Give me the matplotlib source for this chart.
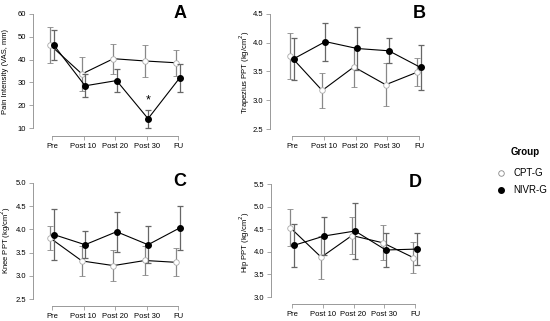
import matplotlib.pyplot as plt
import numpy as np

plt.rcParams['font.family'] = ['Liberation Sans', 'DejaVu Sans']

times = ["Pre", "Post 10", "Post 20", "Post 30", "FU"]

# panel A - pain intensity
painCPT = [46.3, 33.7, 40.4, 39.4, 38.6]
painCPTerr = [7.8, 7.3, 6.6, 7.0, 5.8]
painNIVR = [46.5, 28.5, 30.8, 14.1, 31.9]
painNIVRerr = [6.5, 5.0, 4.9, 4.0, 6.0]

# panel B - trapezius PPT
trapCPT = [3.77, 3.17, 3.58, 3.27, 3.49]
trapCPTerr = [0.40, 0.30, 0.35, 0.37, 0.24]
trapNIVR = [3.72, 4.02, 3.90, 3.86, 3.57]
trapNIVRerr = [0.37, 0.33, 0.38, 0.22, 0.39]

# panel C - knee PPT
kneeCPT = [3.81, 3.32, 3.22, 3.33, 3.29]
kneeCPTerr = [0.26, 0.33, 0.33, 0.31, 0.30]
kneeNIVR = [3.89, 3.67, 3.95, 3.67, 4.03]
kneeNIVRerr = [0.54, 0.29, 0.43, 0.40, 0.48]

# panel D - hip PPT
hipCPT = [4.53, 3.88, 4.36, 4.20, 3.87]
hipCPTerr = [0.41, 0.48, 0.40, 0.39, 0.34]
hipNIVR = [4.14, 4.35, 4.46, 4.04, 4.06]
hipNIVRerr = [0.48, 0.42, 0.61, 0.37, 0.35]

W, H = 550, 321
fig = plt.figure(figsize=(W/100, H/100), dpi=100)

def panel(left, ytop, ybot, vtop, vbot, xpre, xfu, xaxis_y, ylabel, ylabelxy, yticks, cpt, cpterr, nivr, nivrerr, letter, letterxy):
    #build axes in pixel coordinates so that the data range maps onto the spine positions
    ppu = (xfu - xpre) / 4.0
    x0 = -(xpre - left) / ppu
    x1 = 4 + 12 / ppu
    yppu = (ybot - ytop) / (vtop - vbot)
    ylo = vbot - (xaxis_y - ybot) / yppu
    ax = fig.add_axes([left / W, 1 - xaxis_y / H, (x1 - x0) * ppu / W, (xaxis_y - ytop) / H])
    ax.set_xlim(x0, x1)
    ax.set_ylim(ylo, vtop)
    ax.patch.set_visible(False)
    for s in ["top", "right"]:
        ax.spines[s].set_visible(False)
    ax.spines["left"].set_bounds(vbot, vtop)
    ax.spines["bottom"].set_bounds(0, 4)
    for s in ["left", "bottom"]:
        ax.spines[s].set_color("#999999")
        ax.spines[s].set_linewidth(0.7)
    ax.tick_params(length=3, width=0.6, color="#999999", labelsize=5.5, pad=2)
    ax.set_xticks(range(5))
    ax.set_xticklabels(times)
    ax.set_yticks(yticks)
    ax.set_yticklabels([str(t) if isinstance(t, int) else "%.1f" % t for t in yticks])
    fig.text(ylabelxy[0] / W, 1 - ylabelxy[1] / H, ylabel, fontsize=5.5, rotation=90,
             ha="center", va="center")

    x = np.arange(5)
    ax.errorbar(x - 0.05, cpt, yerr=cpterr, fmt="o-", color="black", lw=0.8,
                ecolor="#888888", elinewidth=0.9, capsize=2.5, capthick=0.9,
                ms=4, mfc="white", mec="#aaaaaa", mew=0.6, zorder=2)
    ax.errorbar(x + 0.05, nivr, yerr=nivrerr, fmt="o-", color="black", lw=0.8,
                ecolor="#666666", elinewidth=0.9, capsize=2.5, capthick=0.9,
                ms=4, mfc="black", mec="black", zorder=3)
    fig.text(letterxy[0] / W, 1 - letterxy[1] / H, letter, fontsize=13, fontweight="bold",
             ha="center", va="center")
    return ax

axA = panel(33, 14, 128, 60, 10, 52, 178, 136, "Pain Intensity (VAS, mm)", (6, 72),
            [10, 20, 30, 40, 50, 60], painCPT, painCPTerr, painNIVR, painNIVRerr, "A", (180, 14))
axA.text(3.05, 22, "*", fontsize=9, ha="center", va="center")

panel(270, 14, 129, 4.5, 2.5, 292, 419, 136, "Trapezius PPT (kg/cm$^2$)", (245, 72),
      [2.5, 3.0, 3.5, 4.0, 4.5], trapCPT, trapCPTerr, trapNIVR, trapNIVRerr, "B", (419, 14))

panel(33, 183, 299, 5.0, 2.5, 52, 178, 306, "Knee PPT (kg/cm$^2$)", (6, 240),
      [2.5, 3.0, 3.5, 4.0, 4.5, 5.0], kneeCPT, kneeCPTerr, kneeNIVR, kneeNIVRerr, "C", (180, 182))

panel(271, 184, 297, 5.5, 3.0, 292, 415, 304, "Hip PPT (kg/cm$^2$)", (245, 242),
      [3.0, 3.5, 4.0, 4.5, 5.0, 5.5], hipCPT, hipCPTerr, hipNIVR, hipNIVRerr, "D", (415, 183))

# legend
fig.text(511 / W, 1 - 152 / H, "Group", fontsize=7, fontweight="bold", ha="left", va="center")
fig.lines.append(plt.Line2D([501 / W], [1 - 173 / H], marker="o", ms=4, mfc="white",
                            mec="#888888", mew=0.6, ls="none", transform=fig.transFigure))
fig.lines.append(plt.Line2D([501 / W], [1 - 190 / H], marker="o", ms=4, mfc="black",
                            mec="black", ls="none", transform=fig.transFigure))
fig.text(513 / W, 1 - 173 / H, "CPT-G", fontsize=7, ha="left", va="center")
fig.text(513 / W, 1 - 190 / H, "NIVR-G", fontsize=7, ha="left", va="center")

fig.savefig("out.png", dpi=100)
